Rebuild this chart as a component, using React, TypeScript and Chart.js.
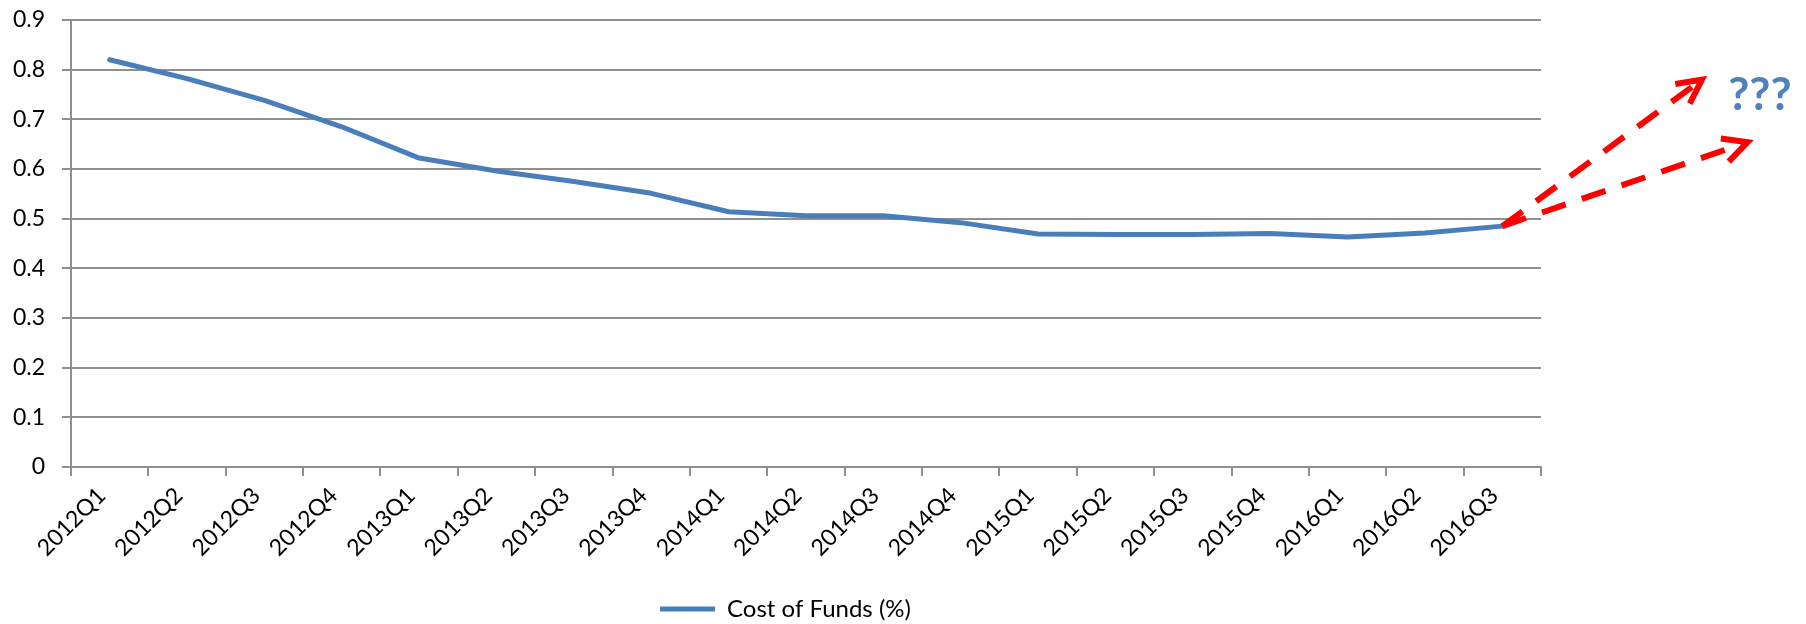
import React, { useEffect, useRef } from 'react';
import { Chart, registerables } from 'chart.js';

Chart.register(...registerables);

const categories = [
  '2012Q1', '2012Q2', '2012Q3', '2012Q4',
  '2013Q1', '2013Q2', '2013Q3', '2013Q4',
  '2014Q1', '2014Q2', '2014Q3', '2014Q4',
  '2015Q1', '2015Q2', '2015Q3', '2015Q4',
  '2016Q1', '2016Q2', '2016Q3',
];
const costOfFunds = [
  0.82, 0.782, 0.738, 0.685,
  0.622, 0.596, 0.575, 0.551,
  0.514, 0.506, 0.506, 0.492,
  0.469, 0.468, 0.468, 0.47,
  0.463, 0.471, 0.485,
];
const yTickValues = [0, 0.1, 0.2, 0.3, 0.4, 0.5, 0.6, 0.7, 0.8, 0.9];
const seriesLabel = 'Cost of Funds (%)';

// forecast arrows (in category-index / value units)
const arrowTipIndex = [20.58, 21.17];
const arrowTipValue = [0.78, 0.654];
const questionText = '???';
const questionIndex = 21.33;
const questionValue = 0.748;

const FONT = "Lato, 'Open Sans', 'DejaVu Sans', sans-serif";
const GRID = '#8f8f8f';
const BLUE = '#4A7EBB';

const arrowPlugin = {
  id: 'forecastArrows',
  afterDraw(chart: any) {
    const ctx = chart.ctx;
    const xs = chart.scales.x;
    const ys = chart.scales.y;
    const last = costOfFunds.length - 1;
    const sx = xs.getPixelForValue(last);
    const sy = ys.getPixelForValue(costOfFunds[last]);
    ctx.save();
    ctx.strokeStyle = '#FF0000';
    ctx.lineWidth = 6;
    for (let i = 0; i < arrowTipIndex.length; i++) {
      const tx = xs.getPixelForValue(arrowTipIndex[i]);
      const ty = ys.getPixelForValue(arrowTipValue[i]);
      ctx.setLineDash([25, 17]);
      ctx.lineCap = 'butt';
      ctx.beginPath();
      ctx.moveTo(sx, sy);
      ctx.lineTo(tx, ty);
      ctx.stroke();
      ctx.setLineDash([]);
      const ang = Math.atan2(ty - sy, tx - sx) + Math.PI;
      const len = 27;
      const half = 0.47;
      ctx.lineJoin = 'miter';
      ctx.beginPath();
      ctx.moveTo(tx + len * Math.cos(ang + half), ty + len * Math.sin(ang + half));
      ctx.lineTo(tx, ty);
      ctx.lineTo(tx + len * Math.cos(ang - half), ty + len * Math.sin(ang - half));
      ctx.stroke();
    }
    ctx.fillStyle = '#4F81BD';
    ctx.font = `bold 46px ${FONT}`;
    ctx.textAlign = 'center';
    ctx.textBaseline = 'middle';
    ctx.fillText(questionText, xs.getPixelForValue(questionIndex), ys.getPixelForValue(questionValue));
    ctx.restore();
  },
};

const legendShift = {
  id: 'legendShift',
  afterLayout(chart: any) {
    const l = chart.legend;
    if (l) {
      l.top += 7;
      l.bottom += 7;
      l.left += 15;
      l.right += 15;
    }
  },
};

export default function App() {
  const ref = useRef<HTMLCanvasElement | null>(null);
  useEffect(() => {
    if (!ref.current) return;
    const chart = new Chart(ref.current, {
      type: 'line',
      data: {
        labels: categories,
        datasets: [
          {
            label: seriesLabel,
            data: costOfFunds,
            borderColor: BLUE,
            backgroundColor: BLUE,
            borderWidth: 5,
            borderCapStyle: 'round',
            borderJoinStyle: 'round',
            pointRadius: 0,
            pointHoverRadius: 0,
            tension: 0,
            fill: false,
          },
        ],
      },
      options: {
        responsive: false,
        animation: false,
        layout: { padding: { left: 0, right: 265, top: 20, bottom: 0 } },
        plugins: {
          tooltip: { enabled: false },
          legend: {
            position: 'bottom',
            labels: {
              usePointStyle: true,
              pointStyle: 'line',
              pointStyleWidth: 55,
              boxHeight: 24,
              padding: 10,
              color: '#000',
              font: { family: FONT, size: 24 },
            },
          },
        },
        scales: {
          x: {
            type: 'category',
            offset: true,
            grid: {
              offset: true,
              drawOnChartArea: false,
              drawTicks: true,
              tickLength: 9,
              color: GRID,
              lineWidth: 2,
            },
            border: { display: true, color: GRID, width: 2 },
            ticks: {
              autoSkip: false,
              maxRotation: 45,
              minRotation: 45,
              padding: 6,
              labelOffset: -8,
              color: '#000',
              font: { family: FONT, size: 23 },
            },
            afterFit(scale: any) {
              scale.height = 113;
            },
          },
          y: {
            min: 0,
            max: 0.9,
            afterBuildTicks(scale: any) {
              scale.ticks = yTickValues.map((v) => ({ value: v }));
            },
            grid: {
              drawOnChartArea: true,
              drawTicks: true,
              tickLength: 9,
              color: GRID,
              lineWidth: 2,
            },
            border: { display: true, color: GRID, width: 2 },
            ticks: {
              padding: 17,
              color: '#000',
              font: { family: FONT, size: 23 },
              callback: (v: any) => String(Math.round(Number(v) * 10) / 10),
            },
            afterFit(scale: any) {
              scale.width = 71;
              scale.paddingTop = 10;
              scale.paddingBottom = 10;
            },
          },
        },
      },
      plugins: [arrowPlugin, legendShift],
    });
    return () => chart.destroy();
  }, []);
  return (
    <div style={{ position: 'fixed', left: 0, top: 0, width: 1806, height: 624, background: '#fff' }}>
      <canvas ref={ref} width={1806} height={624} style={{ display: 'block' }} />
    </div>
  );
}
